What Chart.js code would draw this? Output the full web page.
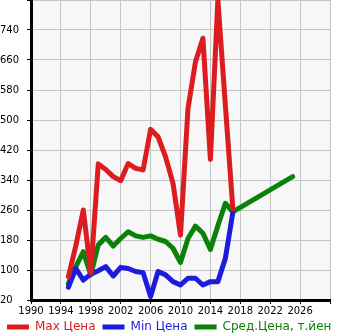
<!DOCTYPE html>
<html>
<head>
<meta charset="utf-8">
<script src="https://cdn.jsdelivr.net/npm/chart.js@4"></script>
<style>
  html, body { margin: 0; padding: 0; background: #fff; }
  #wrap { width: 345px; height: 335px; }
</style>
</head>
<body>
<div id="wrap"><canvas id="priceChart" width="345" height="335"></canvas></div>
<script>
// years and prices (thousand yen)
const years = [1995, 1996, 1997, 1998, 1999, 2000, 2001, 2002, 2003, 2004, 2005, 2006,
  2007, 2008, 2009, 2010, 2011, 2012, 2013, 2014, 2015, 2016, 2017];
const maxPrice = [82, 165, 260, 92, 383, 368, 349, 338, 384, 371, 367, 475,
  455, 402, 331, 193, 530, 655, 718, 395, 820, 540, 264];
const minPrice = [54, 104, 73, 89, 98, 109, 84, 107, 104, 96, 93, 29,
  96, 87, 69, 60, 78, 78, 60, 69, 69, 131, 253];
const avgYears = years.concat([2025]);
const avgPrice = [64, 109, 149, 87, 167, 187, 164, 184, 202, 191, 187, 191,
  182, 176, 158, 120, 184, 217, 198, 155, 218, 278, 255, 349];

const seriesNames = ['Max Цена', 'Min Цена', 'Сред.Цена, т.йен'];
const seriesColors = ['#dc1c1e', '#1c1cdc', '#0a820a'];

const pairs = (xs, ys) => xs.map((x, i) => ({ x, y: ys[i] }));

const plotBackground = {
  id: 'plotBackground',
  beforeDraw(chart) {
    const { ctx, chartArea: a } = chart;
    ctx.save();
    ctx.fillStyle = '#f7f7f7';
    ctx.fillRect(a.left, a.top, a.right - a.left, a.bottom - a.top);
    ctx.restore();
  },
};

const line = (label, data, color) => ({
  label,
  data,
  borderColor: color,
  backgroundColor: color,
  borderWidth: 5,
  pointRadius: 0,
  borderJoinStyle: 'round',
  borderCapStyle: 'round',
  tension: 0,
});

Chart.defaults.font.family = 'DejaVu Sans';

new Chart(document.querySelector('#priceChart'), {
  type: 'line',
  data: {
    datasets: [
      line(seriesNames[0], pairs(years, maxPrice), seriesColors[0]),
      line(seriesNames[1], pairs(years, minPrice), seriesColors[1]),
      line(seriesNames[2], pairs(avgYears, avgPrice), seriesColors[2]),
    ],
  },
  options: {
    responsive: false,
    animation: false,
    layout: { padding: 0 },
    plugins: {
      tooltip: { enabled: false },
      legend: {
        position: 'bottom',
        align: 'start',
        maxHeight: 21,
        labels: {
          boxWidth: 22,
          boxHeight: 5,
          useBorderRadius: true,
          borderRadius: 2.5,
          padding: 7,
          font: { size: 12 },
          generateLabels(chart) {
            return chart.data.datasets.map((ds, i) => ({
              text: ds.label,
              fillStyle: ds.borderColor,
              strokeStyle: ds.borderColor,
              lineWidth: 0,
              fontColor: ds.borderColor,
              datasetIndex: i,
              hidden: false,
            }));
          },
        },
      },
    },
    scales: {
      x: {
        type: 'linear',
        min: 1990,
        max: 2030,
        border: { color: '#000', width: 3 },
        grid: { color: '#c4c4c4', tickColor: '#000', tickLength: 4 },
        ticks: {
          stepSize: 4,
          color: '#000',
          font: { size: 10 },
          padding: 1,
          maxRotation: 0,
          callback: (v) => (v === 2030 ? '' : String(v)),
        },
        afterFit(scale) {
          scale.height = 14;
          scale.paddingRight = 15;
        },
      },
      y: {
        min: 20,
        max: 820,
        border: { color: '#000', width: 3 },
        grid: { color: '#c4c4c4', tickColor: '#000', tickLength: 4 },
        ticks: {
          stepSize: 80,
          color: '#000',
          font: { size: 10 },
          crossAlign: 'far',
          callback: (v) => (v === 820 ? '' : String(v)),
        },
        afterFit(scale) {
          scale.width = 31;
          scale.paddingTop = 0;
          scale.paddingBottom = 0;
        },
      },
    },
  },
  plugins: [plotBackground],
});
</script>
</body>
</html>
